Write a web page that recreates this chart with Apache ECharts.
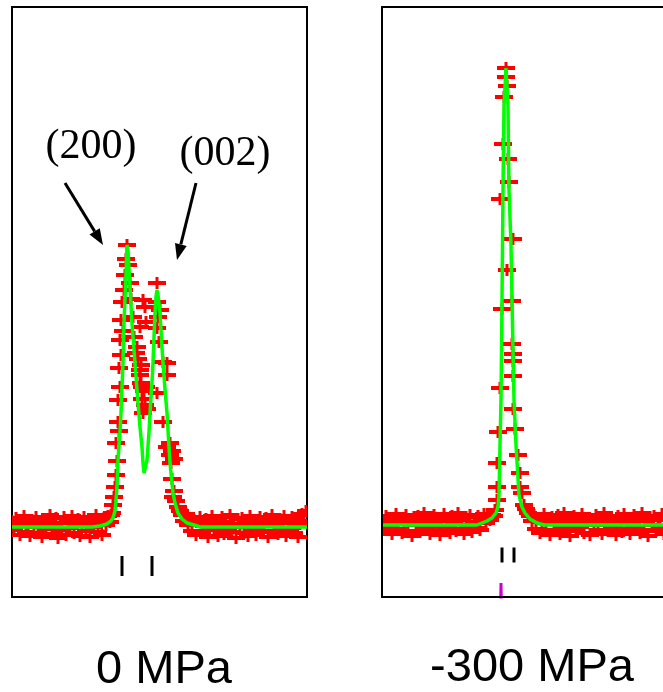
<!DOCTYPE html>
<html>
<head>
<meta charset="utf-8">
<script src="https://cdn.jsdelivr.net/npm/echarts@6/dist/echarts.min.js"></script>
<style>
html,body{margin:0;padding:0;background:#fff;}
#c{width:663px;height:692px;}
</style>
</head>
<body>
<div id="c"></div>
<script>
// ---------- DATA (channel, intensity) ----------
const panelLabels = ['0 MPa', '-300 MPa'];
const peakLabels = ['(200)', '(002)'];
const obsSigma = 6;

// Left panel (0 MPa): observed points
const leftObs = [
 [0,6],[2,-3],[4,9],[6,1],[8,-8],[10,4],[12,11],[14,-5],[16,2],[18,-9],[20,7],[22,0],[24,10],[26,-6],[28,3],[30,-10],
 [32,8],[34,-2],[36,5],[38,12],[40,-7],[42,1],[44,9],[46,-11],[48,4],[50,-3],[52,10],[54,-8],[56,6],[58,-1],[60,11],
 [62,-6],[64,3],[66,8],[68,-9],[70,2],[72,10],[74,-4],[76,6],[78,-10],[80,8],[82,0],[84,12],[86,-5],[88,4],[90,-8],
 [92,9],[94,2],[96,11],[98,5],
 [99,12],[100,14],[101,22],[102,30],[103,40],[104,52],[104,84],[105,66],[106,105],[106,127],[107,96],[107,159],[108,140],
 [108,187],[109,207],[109,172],[110,225],[111,196],[112,237],[113,252],[114,268],[115,282],[116,262],
 [118,244],[119,228],[121,210],[122,190],[124,174],[125,180],[126,168],[128,200],[128,157],[128,152],[129,162],[130,140],
 [129,144],[130,128],[131,114],[132,136],[133,122],[134,140],[135,118],[133,220],[134,205],[131,227],
 [145,244],[145,225],[146,210],[148,217],[145,199],[147,185],[151,165],[155,164],[145,134],[155,152],[151,105],
 [155,80],[158,84],[160,76],[162,68],[158,72],[159,64],[160,48],[161,30],[162,36],[164,26],[166,20],[168,16],
 [170,12],[172,6],[174,13],[176,2],[178,9],[180,-4],[182,7],[184,-8],[186,5],[188,10],[190,-6],[192,1],[194,8],
 [196,-10],[198,4],[200,11],[202,-3],[204,6],[206,-9],[208,2],[210,10],[212,-7],[214,5],[216,-1],[218,12],[220,-5],
 [222,3],[224,-11],[226,8],[228,0],[230,9],[232,-6],[234,4],[236,-9],[238,11],[240,-2],[242,6],[244,-8],[246,3],
 [248,10],[250,-5],[252,1],[254,9],[256,-10],[258,5],[260,12],[262,-4],[264,2],[266,-7],[268,8],[270,-1],[272,11],
 [274,-9],[276,4],[278,-3],[280,10],[282,-6],[284,7],[286,-10],[288,3],[290,13],[292,6],[294,16]
];
// Left panel: calculated profile
const leftCalc = [
 [0,0],[80,0],[88,1],[95,3],[99,6],[101,9],[103,16],[104,26],[105,40],[106,67],[108,95],[109,114],[110,140],[111,164],
 [112,204],[113,228],[114,252],[115,282],[116,277],[118,240],[120,204],[123,164],[126,124],[128,100],[130,80],[131,64],
 [132,54],[133,58],[135,67],[137,95],[138,114],[140,145],[141,164],[142,190],[143,214],[144,230],[145,237],[146,232],
 [148,214],[150,180],[151,164],[153,138],[155,114],[157,80],[158,64],[160,44],[161,34],[163,24],[166,14],[170,8],
 [175,4],[182,2],[188,0],[295,0]
];
const leftRefl = [110, 140];

// Right panel (-300 MPa): observed points
const rightObs = [
 [0,-5],[2,4],[4,9],[6,-2],[8,6],[10,-9],[12,3],[14,11],[16,-4],[18,7],[20,-8],[22,1],[24,10],[26,-6],[28,5],[30,-11],
 [32,8],[34,0],[36,9],[38,-7],[40,3],[42,12],[44,-3],[46,6],[48,-9],[50,2],[52,10],[54,-5],[56,7],[58,-10],[60,4],
 [62,11],[64,-2],[66,6],[68,-8],[70,9],[72,1],[74,-6],[76,12],[78,-4],[80,5],[82,-9],[84,8],[86,0],[88,10],[90,-7],
 [92,3],[94,-3],[96,9],[98,-5],[100,6],[102,11],[104,2],[106,8],[108,5],[110,10],[112,9],
 [113,15],[115,25],[115,38],[115,62],[116,93],[118,137],[120,216],[125,255],[118,326],[121,381],[122,428],
 [124,457],[124,448],[125,439],[126,366],[127,343],[131,286],[130,224],[130,181],[131,171],[131,164],[131,149],
 [131,116],[133,96],[136,70],[138,52],[138,38],[140,32],[142,20],[144,16],[146,12],
 [148,9],[150,4],[152,10],[154,-4],[156,7],[158,-8],[160,3],[162,11],[164,-6],[166,5],[168,-10],[170,8],[172,1],
 [174,-5],[176,10],[178,-9],[180,4],[182,12],[184,-3],[186,6],[188,-11],[190,2],[192,9],[194,-6],[196,5],[198,-2],
 [200,11],[202,-8],[204,3],[206,7],[208,-10],[210,6],[212,0],[214,10],[216,-5],[218,4],[220,-9],[222,12],[224,1],
 [226,-6],[228,8],[230,-3],[232,5],[234,-10],[236,9],[238,2],[240,-7],[242,11],[244,-4],[246,6],[248,-9],[250,3],
 [252,10],[254,-1],[256,7],[258,-8],[260,12],[262,-5],[264,4],[266,-11],[268,8],[270,0],[272,9],[274,-6],[276,5],
 [278,-2],[280,11],[282,-9]
];
// Right panel: calculated profile
const rightCalc = [
 [0,0],[95,0],[105,4],[110,7],[114,12],[116,18],[117,30],[118,80],[119,125],[120,225],[121,335],[122,420],[124,457],
 [126,420],[127,335],[129,280],[130,225],[132,125],[134,80],[137,30],[140,18],[143,12],[148,6],[155,2],[162,0],[282,0]
];
const rightRefl = [120, 132];
// Right panel: difference curve (only its spike reaches into view)
const rightDiff = [[110,-120],[118,-120],[119,-58],[120,-120],[130,-120]];

// ---------- CHART ----------
const RED = '#ff0000', GREEN = '#00ff00';

function obsRender(params, api) {
  const x = api.value(0), y = api.value(1);
  const c = api.coord([x, y]);
  const t = api.coord([x, y + obsSigma]);
  const b = api.coord([x, y - obsSigma]);
  const hw = 9;
  return {
    type: 'group',
    children: [
      {type: 'line', shape: {x1: c[0] - hw, y1: c[1], x2: c[0] + hw, y2: c[1]}, style: {stroke: RED, lineWidth: 4}},
      {type: 'line', shape: {x1: c[0], y1: t[1], x2: c[0], y2: b[1]}, style: {stroke: RED, lineWidth: 3}}
    ]
  };
}
function tickRender(offset, h) {
  return function (params, api) {
    const c = api.coord([api.value(0), 0]);
    return {type: 'rect', shape: {x: c[0] - 1.5, y: c[1] + offset - h / 2, width: 3, height: h}, style: {fill: '#000'}};
  };
}

const chart = echarts.init(document.getElementById('c'), null, {renderer: 'canvas'});
const grids = [
  {left: 12, top: 7, width: 295, height: 590, show: true, borderColor: '#000', borderWidth: 2, backgroundColor: '#fff'},
  {left: 382, top: 7, width: 281, height: 590, show: false}
];
const xAxes = [
  {type: 'value', gridIndex: 0, min: 0, max: 295, show: false},
  {type: 'value', gridIndex: 1, min: 0, max: 281, show: false}
];
const yAxes = [
  {type: 'value', gridIndex: 0, min: -70, max: 520, show: false},
  {type: 'value', gridIndex: 1, min: -72, max: 518, show: false}
];

function panelSeries(i, obs, calc, refl, tickOff, tickH) {
  return [
    {type: 'custom', xAxisIndex: i, yAxisIndex: i, data: obs, renderItem: obsRender, clip: true, z: 2, silent: true},
    {type: 'line', xAxisIndex: i, yAxisIndex: i, data: calc, showSymbol: false, clip: true, z: 3, silent: true,
     lineStyle: {color: GREEN, width: 3.5}},
    {type: 'custom', xAxisIndex: i, yAxisIndex: i, data: refl.map(v => [v, 0]), renderItem: tickRender(tickOff, tickH), z: 3, silent: true}
  ];
}

const series = [].concat(
  panelSeries(0, leftObs, leftCalc, leftRefl, 39, 20),
  panelSeries(1, rightObs, rightCalc, rightRefl, 30, 15),
  [{type: 'line', xAxisIndex: 1, yAxisIndex: 1, data: rightDiff, showSymbol: false, clip: true, z: 3, silent: true,
    lineStyle: {color: '#cc00cc', width: 3}}]
);

function arrow(x1, y1, tx, ty) {
  const dx = tx - x1, dy = ty - y1, L = Math.hypot(dx, dy);
  const ux = dx / L, uy = dy / L, hl = 16, hw = 6;
  const bx = tx - hl * ux, by = ty - hl * uy;
  const px = -uy, py = ux;
  return [
    {type: 'line', shape: {x1: x1, y1: y1, x2: bx, y2: by}, style: {stroke: '#000', lineWidth: 3}, z: 10},
    {type: 'polygon', shape: {points: [[tx, ty], [bx + hw * px, by + hw * py], [bx - hw * px, by - hw * py]]}, style: {fill: '#000'}, z: 10}
  ];
}

const graphic = [
  // open frame of the right panel (its right side lies beyond the page)
  {type: 'polyline', shape: {points: [[665, 7], [382, 7], [382, 597], [665, 597]]}, style: {stroke: '#000', lineWidth: 2, fill: null}, z: 5},
  {type: 'text', x: 91, y: 147, z: 10,
   style: {text: peakLabels[0], font: '42px "Liberation Serif", "Times New Roman", serif', fill: '#000', textAlign: 'center', textVerticalAlign: 'middle'}},
  {type: 'text', x: 225, y: 154, z: 10,
   style: {text: peakLabels[1], font: '42px "Liberation Serif", "Times New Roman", serif', fill: '#000', textAlign: 'center', textVerticalAlign: 'middle'}},
  {type: 'text', x: 164, y: 670, z: 10,
   style: {text: panelLabels[0], font: '47px "Liberation Sans", Arial, sans-serif', fill: '#000', textAlign: 'center', textVerticalAlign: 'middle'}},
  {type: 'text', x: 532, y: 668, z: 10,
   style: {text: panelLabels[1], font: '47px "Liberation Sans", Arial, sans-serif', fill: '#000', textAlign: 'center', textVerticalAlign: 'middle'}}
].concat(arrow(65, 183, 103, 245), arrow(196, 183, 177, 260));

chart.setOption({
  animation: false,
  backgroundColor: '#fff',
  grid: grids,
  xAxis: xAxes,
  yAxis: yAxes,
  series: series,
  graphic: graphic
});
</script>
</body>
</html>
